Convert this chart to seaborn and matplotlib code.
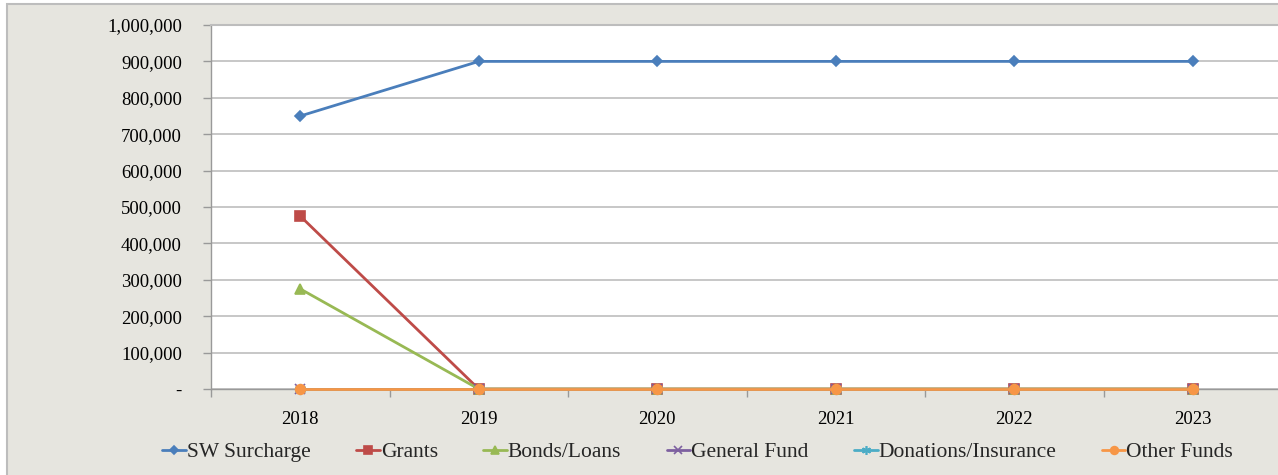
import matplotlib
matplotlib.use("Agg")
import matplotlib.pyplot as plt
import matplotlib.ticker as mticker
from matplotlib.patches import Rectangle
import pandas as pd
import seaborn as sns

years = ["2018", "2019", "2020", "2021", "2022", "2023"]
sw_surcharge = [750000, 900000, 900000, 900000, 900000, 900000]
grants = [475000, 0, 0, 0, 0, 0]
bonds_loans = [275000, 0, 0, 0, 0, 0]
general_fund = [0, 0, 0, 0, 0, 0]
donations_insurance = [0, 0, 0, 0, 0, 0]
other_funds = [0, 0, 0, 0, 0, 0]

series_names = ["SW Surcharge", "Grants", "Bonds/Loans", "General Fund",
                "Donations/Insurance", "Other Funds"]
series_values = [sw_surcharge, grants, bonds_loans, general_fund,
                 donations_insurance, other_funds]
colors = ["#4A7EBB", "#BE4B48", "#98B954", "#7D60A0", "#4BACC6", "#F79646"]
markers = ["D", "s", "^", "x", (6, 2, 0), "o"]
msizes = [5, 7, 7, 7, 8, 7]

rows = []
for name, vals in zip(series_names, series_values):
    for y, v in zip(years, vals):
        rows.append({"Year": y, "Value": v, "Series": name})
df = pd.DataFrame(rows)

sns.set_theme(style="white")
plt.rcParams["font.family"] = ["Liberation Serif", "DejaVu Serif"]

W, H = 1278, 475
fig = plt.figure(figsize=(W / 100, H / 100), dpi=100)
fig.patch.set_facecolor("white")
bg = Rectangle((7 / W, -0.1), 1.1, (H - 4) / H + 0.1, transform=fig.transFigure,
               facecolor="#E6E5DF", edgecolor="#BDBDBD", linewidth=1.5, zorder=-10)
fig.patches.append(bg)

left, right = 211 / W, 1282 / W
bottom, top = 1 - 389 / H, 1 - 25 / H
ax = fig.add_axes([left, bottom, right - left, top - bottom])
ax.set_facecolor("white")

for i, (name, col, mk, ms) in enumerate(zip(series_names, colors, markers, msizes)):
    sub = df[df["Series"] == name]
    sns.lineplot(data=sub, x="Year", y="Value", ax=ax, color=col, marker=mk,
                 markersize=ms, linewidth=2, label=name,
                 markeredgecolor=col, markeredgewidth=1.2, sort=False,
                 clip_on=False, zorder=3 + i)

ax.set_xlim(-0.5, len(years) - 0.5)
ax.set_ylim(0, 1000000)
ax.yaxis.set_major_locator(mticker.MultipleLocator(100000))
ax.yaxis.set_major_formatter(mticker.FuncFormatter(
    lambda v, p: "-" if v == 0 else f"{v:,.0f}"))
ax.grid(axis="y", color="#BDBDBD", linewidth=1.2)
ax.set_axisbelow(True)
ax.set_xlabel("")
ax.set_ylabel("")

ax.set_xticks(range(len(years)))
ax.set_xticklabels(years)
ax.set_xticks([i - 0.5 for i in range(len(years) + 1)], minor=True)
ax.tick_params(axis="x", which="major", length=0, pad=16, labelsize=13.5, colors="black")
ax.tick_params(axis="x", which="minor", length=6, width=1, color="#999999", direction="out")
ax.tick_params(axis="y", which="major", length=6, width=1, color="#999999",
               direction="out", pad=15, labelsize=13.5, labelcolor="black")
ax.tick_params(axis="y", left=True)
ax.tick_params(axis="x", which="minor", bottom=True)

ax.spines["right"].set_visible(False)
ax.spines["top"].set_color("#BDBDBD")
ax.spines["top"].set_linewidth(1.5)
for s in ["left", "bottom"]:
    ax.spines[s].set_color("#999999")
    ax.spines[s].set_linewidth(1)
    ax.spines[s].set_zorder(2)

handles, labels = ax.get_legend_handles_labels()
ax.get_legend().remove()
fig.legend(handles, labels, loc="center", bbox_to_anchor=(0.546, 1 - 452 / H),
           ncol=6, frameon=False, fontsize=15.5, handlelength=1.1,
           handletextpad=0.05, columnspacing=2.1, markerscale=0.8)

fig.savefig("out.png", dpi=100)
